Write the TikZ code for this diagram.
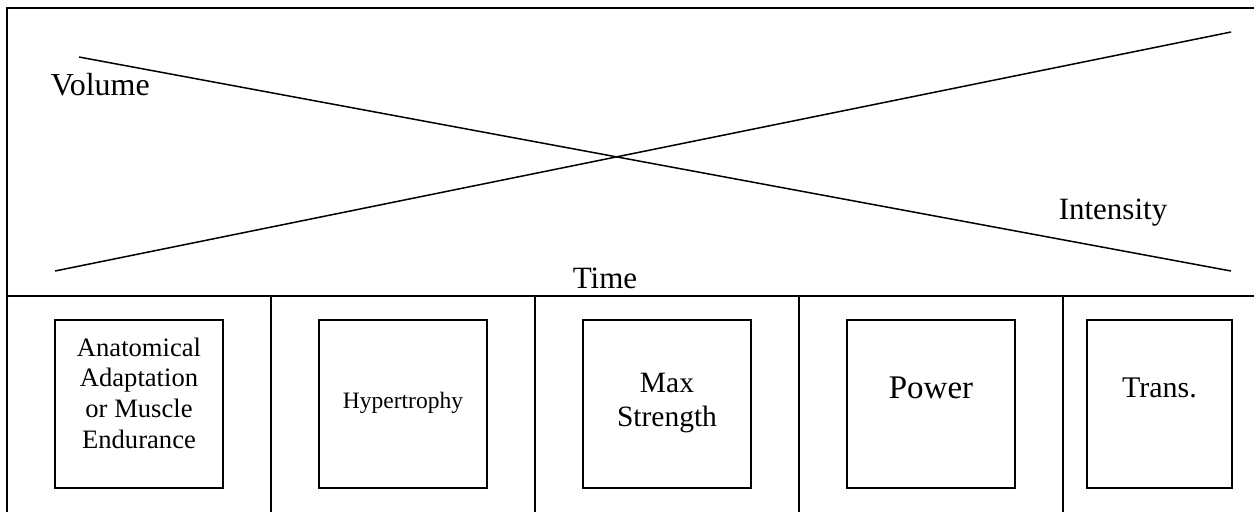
\documentclass[tikz,border=0pt]{standalone}
\usepackage{fontspec}
\setmainfont{Liberation Serif}
\begin{document}
\begin{tikzpicture}[x=1pt,y=-1pt,line width=1.5pt,
    phase/.style={draw,minimum width=168pt,minimum height=168pt,inner sep=0pt},
    big/.style={font=\fontsize{31}{36}\selectfont,inner sep=0pt},
    mid/.style={font=\fontsize{29}{34}\selectfont,align=center,inner sep=0pt}]
\useasboundingbox (0,0) rectangle (1254,512);

\def\cw{264}
        % frame and time axis
        \draw (1254,8) -- (7,8) -- (7,512);
        \draw (7,296) -- (1254,296);
        \draw (271,296) -- (271,512);
        \draw (535,296) -- (535,512);
        \draw (799,296) -- (799,512);
        \draw (1063,296) -- (1063,512);

        % volume goes down, intensity goes up
        \coordinate (vs) at (79,57);
        \coordinate (ve) at (1231,271);
        \coordinate (is) at (55,271);
        \coordinate (ie) at (1231,32);
        \draw (vs) -- (ve);
        \draw (is) -- (ie);
        \node[big,font=\fontsize{32}{36}\selectfont,anchor=base west] (lVol) at (50,95) {Volume};
        \node[big,anchor=base west] (lInt) at (1058,219) {Intensity};
        \node[big,anchor=base] (lTime) at (605,288) {Time};

        % phases
        \begin{scope}
        \node[phase] (pAA) at (139,404) {};
        \node[phase] (pHyp) at (139+\cw,404) {};
        \node[phase] (pMax) at (139+2*\cw,404) {};
        \node[phase] (pPow) at (139+3*\cw,404) {};
        \node[phase,minimum width=145pt] (pTr) at (1159.5,404) {};
        \node[mid,font=\fontsize{26.6}{30.7}\selectfont] (tAA) at (139,393) {Anatomical\\Adaptation\\or Muscle\\Endurance};
        \node[big,font=\fontsize{23.5}{28}\selectfont,anchor=base] (tHyp) at (139+\cw,408) {Hypertrophy};
        \node[mid,font=\fontsize{29.5}{34}\selectfont] (tMax) at (139+2*\cw,403) {Max\\Strength};
        \node[big,font=\fontsize{33}{38}\selectfont,anchor=base] (tPow) at (139+3*\cw,398) {Power};
        \node[big,font=\fontsize{30}{36}\selectfont,anchor=base] (tTr) at (1159.5,397) {Trans.};
        \end{scope}
\end{tikzpicture}
\end{document}
